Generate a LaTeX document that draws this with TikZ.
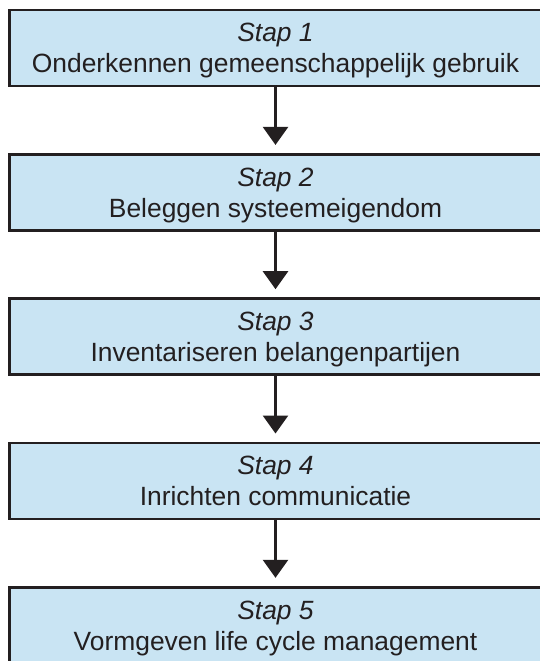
\documentclass[tikz,border=0pt]{standalone}
\usepackage{fontspec}
\setmainfont{Liberation Sans}
\usetikzlibrary{positioning,arrows.meta}

\definecolor{stapblue}{HTML}{C9E4F3}
\definecolor{stapink}{HTML}{231F20}

% strut that keeps both text lines at the same height in every box
\newcommand{\stapstrut}{\rule[-6pt]{0pt}{31pt}}

\tikzset{
  stapbox/.style={draw=stapink, fill=stapblue, line width=2.8pt,
    rectangle, minimum width=532pt, minimum height=76pt, inner sep=0pt,
    align=center, text=stapink, font=\fontsize{26.4}{31}\selectfont},
  stapflow/.style={draw=stapink, line width=2.6pt, shorten >=8pt,
    -{Triangle[width=25pt,length=18pt]}}
}

\begin{document}
\begin{tikzpicture}[x=1pt, y=1pt, node distance=65.5pt]
  \useasboundingbox (0,0) rectangle (539,-661);

  % Steps
  \node[stapbox] (s1) at (275.5,-48)
    {\stapstrut\textit{Stap 1}\\\stapstrut Onderkennen gemeenschappelijk gebruik};
  \node[stapbox, below=of s1] (s2)
    {\stapstrut\textit{Stap 2}\\\stapstrut Beleggen systeemeigendom};
  \node[stapbox, below=of s2] (s3)
    {\stapstrut\textit{Stap 3}\\\stapstrut Inventariseren belangenpartijen};
  \node[stapbox, below=of s3] (s4)
    {\stapstrut\textit{Stap 4}\\\stapstrut Inrichten communicatie};
  \node[stapbox, below=of s4] (s5)
    {\stapstrut\textit{Stap 5}\\\stapstrut Vormgeven life cycle management};

  % Arrows between the steps
  \foreach \a/\b in {s1/s2, s2/s3, s3/s4, s4/s5}
    \draw[stapflow] (\a.south) -- (\b.north);
\end{tikzpicture}
\end{document}
